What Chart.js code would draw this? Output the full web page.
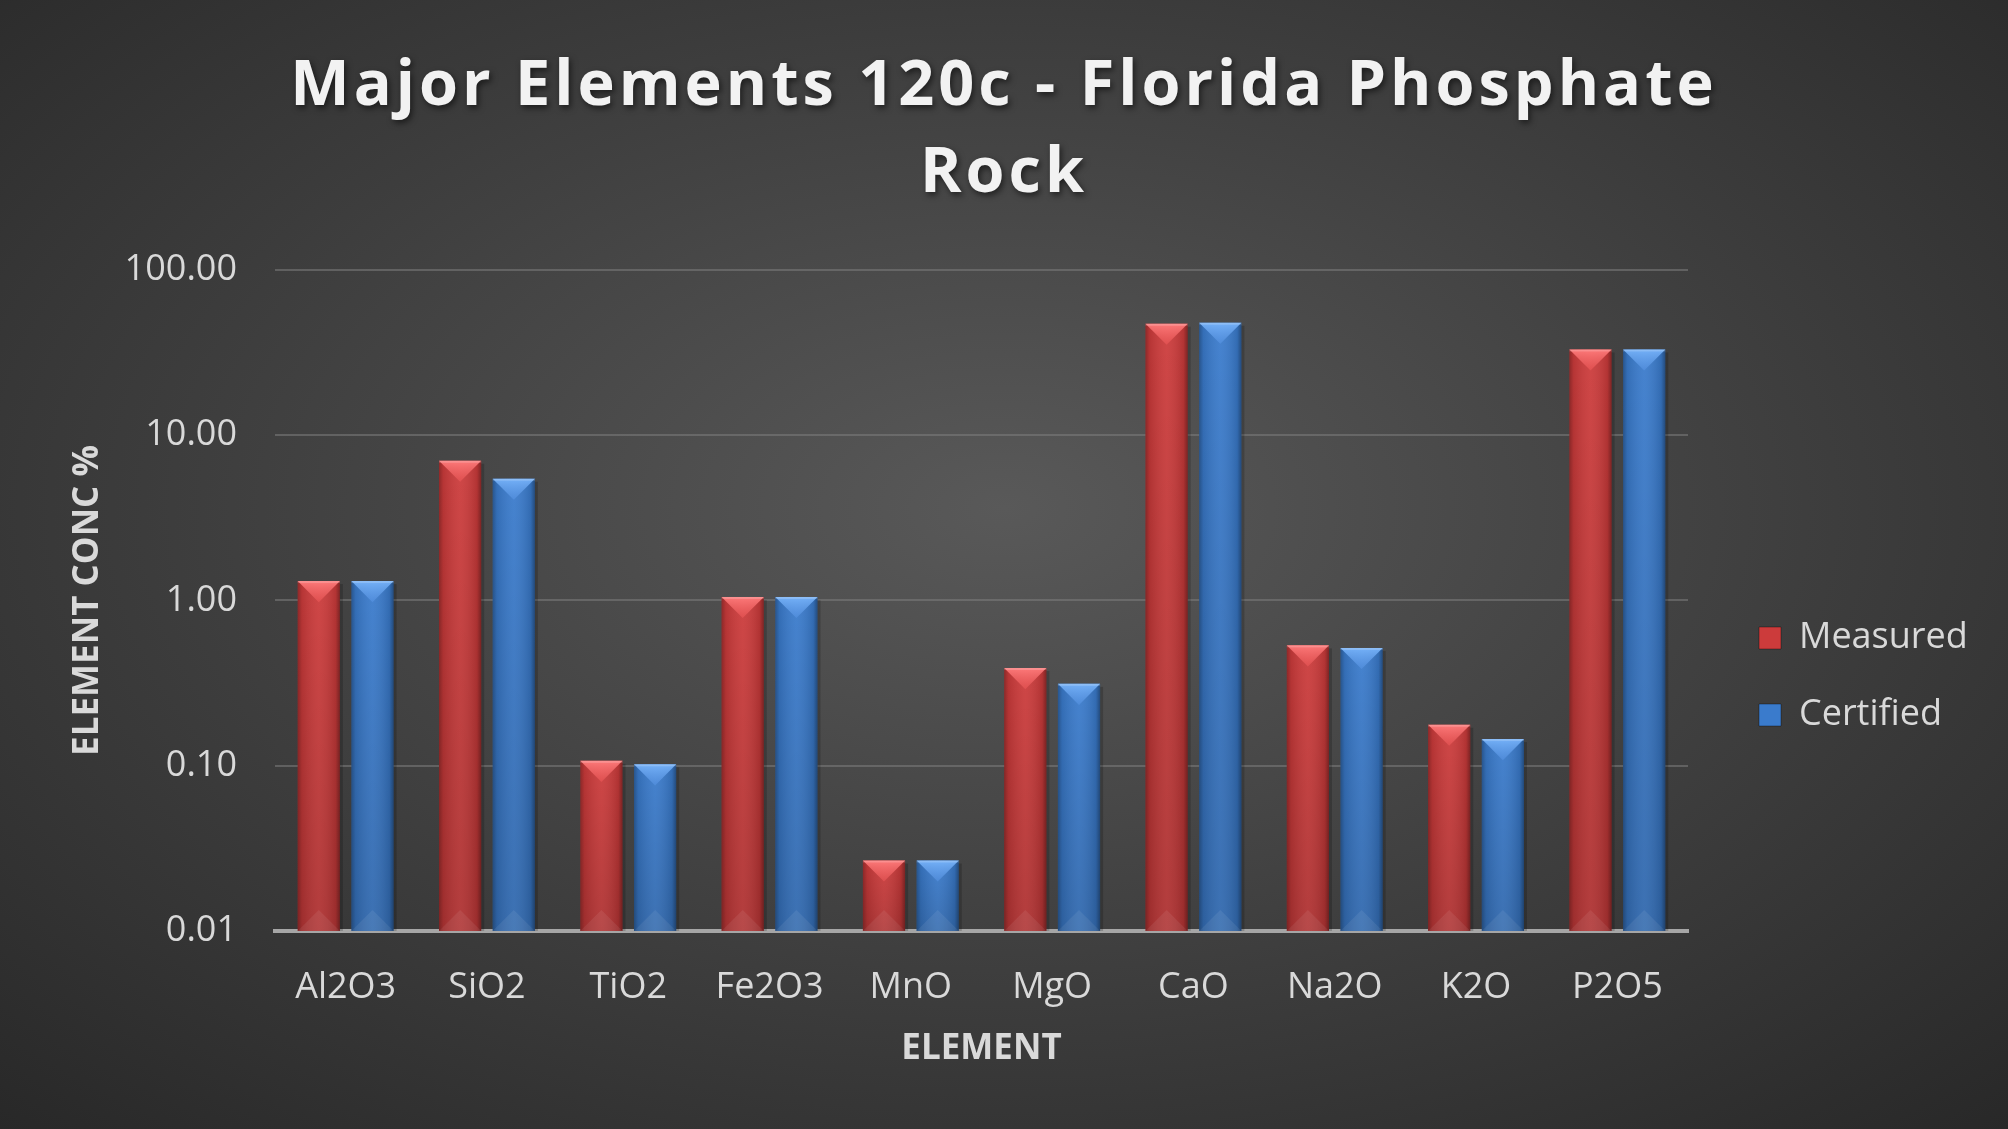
<!DOCTYPE html>
<html><head><meta charset="utf-8">
<script src="https://cdn.jsdelivr.net/npm/chart.js@4/dist/chart.umd.min.js"></script>
<style>
html,body{margin:0;padding:0;width:2008px;height:1129px;overflow:hidden;
background:radial-gradient(ellipse 78% 80% at 50% 45%, #595959 0%, #3c3c3c 55%, #252525 100%);}
#wrap{width:2008px;height:1129px;position:relative}
</style>
</head><body><div id="wrap"><canvas id="c"></canvas></div>
<script>
const categories = ['Al2O3','SiO2','TiO2','Fe2O3','MnO','MgO','CaO','Na2O','K2O','P2O5'];
const measured  = [1.31, 7.0, 0.107, 1.05, 0.0267, 0.39, 47.2, 0.535, 0.177, 33.0];
const certified = [1.31, 5.45, 0.102, 1.05, 0.0267, 0.313, 47.9, 0.516, 0.145, 33.0];
const yTickValues = [0.01, 0.1, 1, 10, 100];
const titleLines = ['Major Elements 120c - Florida Phosphate', 'Rock'];
const seriesNames = ['Measured', 'Certified'];
const xTitle = 'ELEMENT';
const yTitle = 'ELEMENT CONC %';

const baseColors = ['#cc3b3b', '#3a7bcc'];
const lightColors = [['rgba(255,125,125,0.95)','rgba(240,90,90,0.5)'], ['rgba(120,180,250,0.95)','rgba(90,150,230,0.5)']];

const bevelPlugin = {
  id: 'bevel',
  afterInit(chart) {
    const lg = chart.legend;
    if (lg && !lg._fixed) {
      const of = lg.fit;
      lg.fit = function () { of.call(this); if (this.isHorizontal && !this.isHorizontal()) this.width = 320; };
      lg._fixed = true;
    }
  },
  afterLayout(chart) {
    const tb = chart.titleBlock;
    if (tb && !tb._wrapped) {
      const orig = tb.draw;
      tb.draw = function () {
        const c = this.ctx; c.save();
        c.letterSpacing = '4px';
        c.shadowColor = 'rgba(0,0,0,0.55)'; c.shadowBlur = 6; c.shadowOffsetX = 2; c.shadowOffsetY = 3;
        orig.call(this); c.restore();
      };
      tb._wrapped = true;
    }
    const lg = chart.legend;
    if (lg) { lg.left += 30; lg.right += 30; lg.top += 112; lg.bottom += 112; }
  },
  afterDatasetDraw(chart, args) {
    const ctx = chart.ctx; const meta = args.meta; const idx = args.index;
    const lc = lightColors[idx];
    meta.data.forEach(el => {
      const p = el.getProps(['x', 'y', 'base', 'width'], true);
      const l = p.x - p.width / 2, r = p.x + p.width / 2, h = p.base - p.y, w = p.width;
      ctx.save();
      ctx.fillStyle = 'rgba(0,0,0,0.18)';
      ctx.fillRect(r, p.y + 3, 3, h - 3);
      let g = ctx.createLinearGradient(l, 0, r, 0);
      g.addColorStop(0, 'rgba(0,0,0,0.30)');
      g.addColorStop(0.1, 'rgba(0,0,0,0.10)');
      g.addColorStop(0.5, 'rgba(255,255,255,0.06)');
      g.addColorStop(0.9, 'rgba(0,0,0,0.12)');
      g.addColorStop(1, 'rgba(0,0,0,0.38)');
      ctx.fillStyle = g; ctx.fillRect(l, p.y, w, h);
      let gv = ctx.createLinearGradient(0, p.y, 0, p.base);
      gv.addColorStop(0, 'rgba(0,0,0,0)');
      gv.addColorStop(1, 'rgba(0,0,0,0.14)');
      ctx.fillStyle = gv; ctx.fillRect(l, p.y, w, h);
      const d = Math.min(w / 2, h / 2);
      ctx.beginPath(); ctx.moveTo(l, p.y); ctx.lineTo(r, p.y); ctx.lineTo(p.x, p.y + d); ctx.closePath();
      let gt = ctx.createLinearGradient(0, p.y, 0, p.y + d);
      gt.addColorStop(0, lc[0]); gt.addColorStop(1, lc[1]);
      ctx.fillStyle = gt; ctx.fill();
      ctx.fillStyle = 'rgba(255,255,255,0.18)'; ctx.fillRect(l, p.y, w, 2);
      ctx.beginPath(); ctx.moveTo(l, p.base); ctx.lineTo(r, p.base); ctx.lineTo(p.x, p.base - d); ctx.closePath();
      ctx.fillStyle = 'rgba(255,255,255,0.07)'; ctx.fill();
      ctx.restore();
    });
  }
};

const textColor = '#d9d9d9';

new Chart(document.getElementById('c'), {
  type: 'bar',
  data: {
    labels: categories,
    datasets: [
      { label: seriesNames[0], data: measured, backgroundColor: baseColors[0], borderWidth: 0 },
      { label: seriesNames[1], data: certified, backgroundColor: baseColors[1], borderWidth: 0 }
    ]
  },
  options: {
    responsive: true, maintainAspectRatio: false, devicePixelRatio: 1, animation: false,
    categoryPercentage: 0.76, barPercentage: 0.786,
    layout: { padding: { left: 0, right: 0, top: 0, bottom: 0 } },
    plugins: {
      tooltip: { enabled: false },
      title: {
        display: true, text: titleLines, color: '#f2f2f2',
        font: { family: 'Open Sans', weight: 'bold', size: 63, lineHeight: 1.38 },
        padding: { top: 44, bottom: 52 }
      },
      legend: {
        position: 'right', align: 'center',
        labels: {
          color: textColor, font: { family: 'Open Sans', size: 36 },
          boxWidth: 22, boxHeight: 22, padding: 41,
          generateLabels: (chart) => chart.data.datasets.map((ds, i) => ({
            text: ds.label, fillStyle: baseColors[i], strokeStyle: 'rgba(0,0,0,0.35)', lineWidth: 1,
            fontColor: textColor, hidden: false, datasetIndex: i
          }))
        }
      }
    },
    scales: {
      x: {
        grid: { display: false, drawTicks: false },
        border: { display: true, color: '#a6a6a6', width: 4 },
        ticks: { color: textColor, font: { family: 'Open Sans', size: 36 }, padding: 35, maxRotation: 0 },
        title: { display: true, text: xTitle, color: textColor, font: { family: 'Open Sans', weight: 'bold', size: 35 }, padding: { top: 10, bottom: 59 } },
        afterFit: (s) => { s.height = 198; }
      },
      y: {
        type: 'logarithmic', min: 0.01, max: 100,
        afterBuildTicks: (s) => { s.ticks = yTickValues.map(v => ({ value: v })); },
        grid: { color: 'rgba(125,125,125,0.55)', lineWidth: 2, drawTicks: false },
        border: { display: false },
        ticks: { color: textColor, font: { family: 'Open Sans', size: 36 }, padding: 38, callback: (v) => Number(v).toFixed(2) },
        title: { display: true, text: yTitle, color: textColor, font: { family: 'Open Sans', weight: 'bold', size: 35 }, padding: { top: 67, bottom: 0 } },
        afterFit: (s) => { s.width = 275; }
      }
    }
  },
  plugins: [bevelPlugin]
});
</script>
</body></html>
